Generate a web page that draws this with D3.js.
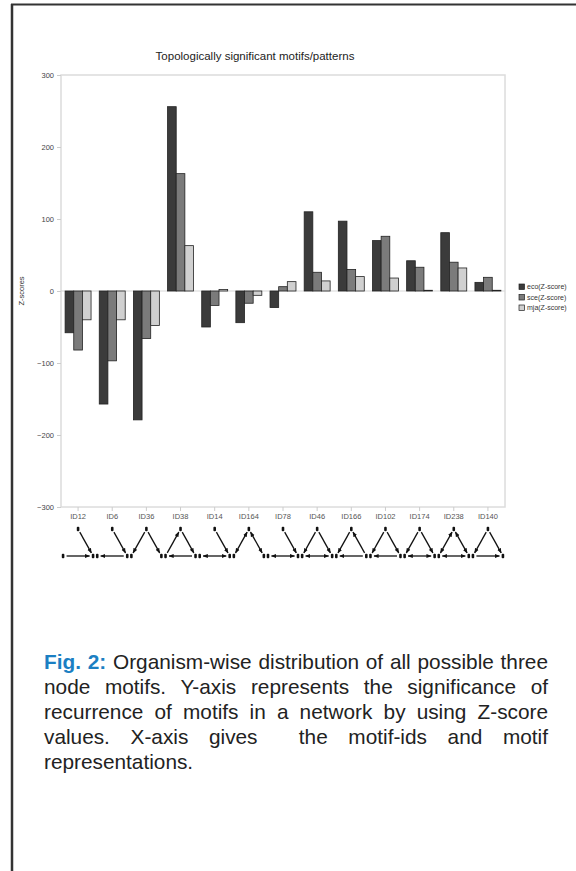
<!DOCTYPE html>
<meta charset="utf-8">
<style>
body { margin: 0; background: #fff; }
svg { position: absolute; left: 0; top: 0; }
text { font-family: "Liberation Sans", Arial, sans-serif; }
.caption {
  position: absolute;
  left: 44px;
  top: 649px;
  width: 504px;
  font-family: "Liberation Sans", Arial, sans-serif;
  font-size: 20.8px;
  line-height: 25px;
  color: #222;
}
.caption div { white-space: nowrap; text-align: justify; text-align-last: justify; }
.caption div.last { text-align-last: left; }
.caption b { color: #1b7fc3; }
</style>

<svg width="576" height="871"></svg>
<div class="caption"></div>

<script src="https://d3js.org/d3.v7.min.js"></script>
<script>

// motif ids along the x axis
var motifIds = ["ID12", "ID6", "ID36", "ID38", "ID14", "ID164", "ID78",
                "ID46", "ID166", "ID102", "ID174", "ID238", "ID140"];

// Z-scores
var eco = [-58, -157, -179, 256, -50, -44, -23, 110, 97, 70, 42, 81, 12];
var sce = [-82, -97, -66, 163, -20, -17, 6, 26, 30, 76, 33, 40, 19];
var mja = [-40, -40, -48, 63, 2, -6, 13, 14, 20, 18, 1, 32, 1];

var seriesNames = ["eco(Z-score)", "sce(Z-score)", "mja(Z-score)"];
var seriesColors = ["#3b3b3b", "#7b7b7b", "#d0d0d0"];
var yTicks = [-300, -200, -100, 0, 100, 200, 300];

// small drawings of each motif: T = top node, L = bottom left, R = bottom right
// each edge is [from, to, bidirectional]
var motifEdges = [
  [["L", "R"], ["T", "R"]],
  [["R", "L"], ["T", "R"]],
  [["T", "L"], ["T", "R"]],
  [["L", "T"], ["T", "R"], ["R", "L"]],
  [["L", "R", true], ["T", "R"]],
  [["T", "L", true], ["T", "R", true]],
  [["L", "R", true], ["T", "R"]],
  [["T", "L"], ["T", "R"], ["L", "R", true]],
  [["T", "L"], ["R", "T"], ["R", "L"]],
  [["T", "L"], ["T", "R"], ["R", "L"]],
  [["T", "L"], ["T", "R"], ["L", "R", true]],
  [["T", "L", true], ["T", "R", true], ["L", "R", true]],
  [["T", "L"], ["T", "R"], ["L", "R"]]
];

var captionLines = [
  "<b>Fig. 2:</b> Organism-wise distribution of all possible three",
  "node motifs. Y-axis represents the significance of",
  "recurrence of motifs in a network by using Z-score",
  "values. X-axis gives&nbsp; the motif-ids and motif",
  "representations."
];

var svg = d3.select("svg");

// page frame
svg.append("line").attr("x1", 11).attr("x2", 576).attr("y1", 4.5).attr("y2", 4.5)
  .attr("stroke", "#333").attr("stroke-width", 2);
svg.append("line").attr("x1", 12).attr("x2", 12).attr("y1", 4).attr("y2", 871)
  .attr("stroke", "#333").attr("stroke-width", 2.5);

var plot = {left: 61, right: 505, top: 75, bottom: 507};

var x = d3.scaleBand()
  .domain(motifIds)
  .range([plot.left, plot.right])
  .paddingInner(0.24)
  .paddingOuter(0.12);

var xs = d3.scaleBand()
  .domain(seriesNames)
  .range([0, x.bandwidth()]);

var y = d3.scaleLinear()
  .domain([-300, 300])
  .range([plot.bottom, plot.top]);

svg.append("text")
  .attr("x", 255).attr("y", 60)
  .attr("text-anchor", "middle")
  .attr("font-size", 11.5)
  .attr("fill", "#222")
  .text("Topologically significant motifs/patterns");

// plot frame
svg.append("rect")
  .attr("x", plot.left).attr("y", plot.top)
  .attr("width", plot.right - plot.left).attr("height", plot.bottom - plot.top)
  .attr("fill", "none").attr("stroke", "#dcdcdc").attr("stroke-width", 1.5);

// y axis
var yAxis = svg.append("g")
  .attr("transform", "translate(" + plot.left + ",0)")
  .call(d3.axisLeft(y).tickValues(yTicks).tickSize(4).tickPadding(3));
yAxis.select(".domain").remove();
yAxis.selectAll("line").attr("stroke", "#ccc");
yAxis.selectAll("text").attr("font-size", 7.5).attr("fill", "#444")
  .style("font-family", "'Liberation Sans', Arial, sans-serif");

svg.append("text")
  .attr("transform", "translate(24," + y(0) + ") rotate(-90)")
  .attr("text-anchor", "middle")
  .attr("font-size", 7.5)
  .attr("fill", "#333")
  .text("Z-scores");

// x axis
var xAxis = svg.append("g")
  .attr("transform", "translate(0," + plot.bottom + ")")
  .call(d3.axisBottom(x).tickSize(4).tickPadding(3));
xAxis.select(".domain").remove();
xAxis.selectAll("line").attr("stroke", "#ccc");
xAxis.selectAll("text").attr("font-size", 7.5).attr("fill", "#555")
  .style("font-family", "'Liberation Sans', Arial, sans-serif");

// zero line
svg.append("line")
  .attr("x1", plot.left).attr("x2", plot.right)
  .attr("y1", y(0)).attr("y2", y(0))
  .attr("stroke", "#d8d8d8").attr("stroke-width", 1.2);

// bars
var rows = motifIds.map(function(id, i) {
  return {id: id, values: [eco[i], sce[i], mja[i]]};
});

var groups = svg.append("g").selectAll("g")
  .data(rows)
  .enter().append("g")
    .attr("transform", function(d) { return "translate(" + x(d.id) + ",0)"; });

groups.selectAll("rect")
  .data(function(d) {
    return d.values.map(function(v, j) { return {name: seriesNames[j], value: v, j: j}; });
  })
  .enter().append("rect")
    .attr("x", function(d) { return xs(d.name); })
    .attr("width", xs.bandwidth())
    .attr("y", function(d) { return y(Math.max(0, d.value)); })
    .attr("height", function(d) { return Math.abs(y(d.value) - y(0)); })
    .attr("fill", function(d) { return seriesColors[d.j]; })
    .attr("stroke", "#222")
    .attr("stroke-width", 0.8);

// legend
var legend = svg.append("g").selectAll("g")
  .data(seriesNames)
  .enter().append("g")
    .attr("transform", function(d, i) { return "translate(519," + (284 + i * 10.5) + ")"; });
legend.append("rect")
  .attr("width", 5.5).attr("height", 5.5)
  .attr("fill", function(d, i) { return seriesColors[i]; })
  .attr("stroke", "#222").attr("stroke-width", 0.7);
legend.append("text")
  .attr("x", 8).attr("y", 5)
  .attr("font-size", 7)
  .attr("fill", "#333")
  .text(function(d) { return d; });

// motif drawings under the axis
var defs = svg.append("defs");
defs.append("marker")
  .attr("id", "arrow")
  .attr("viewBox", "0 0 10 10")
  .attr("refX", 9).attr("refY", 5)
  .attr("markerWidth", 4).attr("markerHeight", 4)
  .attr("orient", "auto-start-reverse")
  .append("path").attr("d", "M0,1L10,5L0,9z").attr("fill", "#111");

var nodeTop = 529, nodeBottom = 556, half = 15;

var motifs = svg.append("g").selectAll("g")
  .data(motifIds)
  .enter().append("g")
    .attr("transform", function(d) { return "translate(" + (x(d) + x.bandwidth() / 2) + ",0)"; });

function nodePos(n) {
  if (n === "T") return [0, nodeTop];
  if (n === "L") return [-half, nodeBottom];
  return [half, nodeBottom];
}

motifs.each(function(id, i) {
  var g = d3.select(this);
  g.selectAll("line")
    .data(motifEdges[i])
    .enter().append("line")
      .each(function(e) {
        var a = nodePos(e[0]), b = nodePos(e[1]);
        var dx = b[0] - a[0], dy = b[1] - a[1], len = Math.sqrt(dx * dx + dy * dy);
        var s = 3.5 / len;
        d3.select(this)
          .attr("x1", a[0] + dx * s).attr("y1", a[1] + dy * s)
          .attr("x2", b[0] - dx * s).attr("y2", b[1] - dy * s);
      })
      .attr("stroke", "#111")
      .attr("stroke-width", 1.3)
      .attr("marker-end", "url(#arrow)")
      .attr("marker-start", function(e) { return e[2] ? "url(#arrow)" : null; });
  g.selectAll("rect")
    .data(["T", "L", "R"])
    .enter().append("rect")
      .attr("x", function(n) { return nodePos(n)[0] - 1.3; })
      .attr("y", function(n) { return nodePos(n)[1] - 2.2; })
      .attr("width", 2.6).attr("height", 4.4)
      .attr("rx", 1)
      .attr("fill", "#111");
});

// caption
d3.select(".caption").selectAll("div")
  .data(captionLines)
  .enter().append("div")
    .attr("class", function(d, i) { return i === captionLines.length - 1 ? "last" : null; })
    .html(function(d) { return d; });

</script>
